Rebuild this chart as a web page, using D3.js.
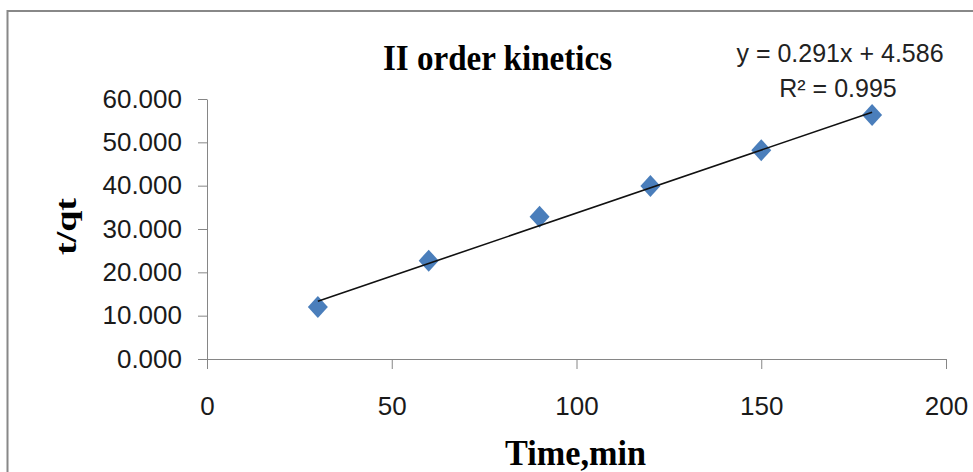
<!DOCTYPE html>
<html>
<head>
<meta charset="utf-8">
<script src="https://cdn.jsdelivr.net/npm/d3@7"></script>
<style>
  body { margin: 0; background: #fff; }
  svg { display: block; }
  .tick text { font-family: "Liberation Sans", Arial, sans-serif; font-size: 26px; fill: #1a1a1a; }
  .axis path, .axis line { stroke: #868686; }
</style>
</head>
<body>
<svg id="chart" width="973" height="472"></svg>
<script>
// data
const timeMin = [30, 60, 90, 120, 150, 180];
const tqt = [12.0, 22.7, 32.8, 39.9, 48.2, 56.3];
const xTicks = [0, 50, 100, 150, 200];
const yTicks = [0, 10, 20, 30, 40, 50, 60];
// trendline as printed on the chart
const trendSlope = 0.291;
const trendIntercept = 4.586;
const rSquared = 0.995;

const svg = d3.select('#chart');

// plot area
const plotLeft = 207, plotRight = 946, plotTop = 99, plotBottom = 359;

const xScale = d3.scaleLinear().domain([0, 200]).range([plotLeft, plotRight]);
const yScale = d3.scaleLinear().domain([0, 60]).range([plotBottom, plotTop]);

// outer chart border
svg.append('rect')
    .attr('x', 7.5)
    .attr('y', 11)
    .attr('width', 1000)
    .attr('height', 500)
    .attr('fill', 'none')
    .attr('stroke', '#888')
    .attr('stroke-width', 2);

svg.append('g')
    .attr('class', 'axis')
    .attr('transform', `translate(${plotLeft}, 0)`)
    .call(d3.axisLeft(yScale)
        .tickValues(yTicks)
        .tickSize(9)
        .tickSizeOuter(0)
        .tickPadding(16)
        .tickFormat(d3.format('.3f')));

svg.append('g')
    .attr('class', 'axis')
    .attr('transform', `translate(0, ${plotBottom})`)
    .call(d3.axisBottom(xScale)
        .tickValues(xTicks)
        .tickSize(10)
        .tickSizeOuter(0)
        .tickPadding(28));

// diamonds
const points = timeMin.map((t, i) => ({ x: t, y: tqt[i] }));
const diamond = 'M0,-11L10,0L0,11L-10,0Z';

svg.append('g')
    .selectAll('path')
    .data(points)
    .enter()
    .append('path')
    .attr('d', diamond)
    .attr('transform', (d) => `translate(${xScale(d.x)}, ${yScale(d.y)})`)
    .attr('fill', '#4a7ebb');

// linear trendline over the data range
const xExtent = d3.extent(timeMin);
svg.append('line')
    .attr('x1', xScale(xExtent[0]))
    .attr('y1', yScale(trendSlope * xExtent[0] + trendIntercept))
    .attr('x2', xScale(xExtent[1]))
    .attr('y2', yScale(trendSlope * xExtent[1] + trendIntercept))
    .attr('stroke', '#111')
    .attr('stroke-width', 1.6);

// titles
svg.append('text')
    .attr('x', 383)
    .attr('y', 70)
    .attr('textLength', 229)
    .attr('lengthAdjust', 'spacingAndGlyphs')
    .style('font-family', '"Liberation Serif", "Times New Roman", serif')
    .style('font-weight', 'bold')
    .style('font-size', '36px')
    .text('II order kinetics');

svg.append('text')
    .attr('x', 505)
    .attr('y', 465)
    .attr('textLength', 141)
    .attr('lengthAdjust', 'spacingAndGlyphs')
    .style('font-family', '"Liberation Serif", "Times New Roman", serif')
    .style('font-weight', 'bold')
    .style('font-size', '36px')
    .text('Time,min');

svg.append('text')
    .attr('transform', 'translate(76, 255) rotate(-90)')
    .attr('textLength', 57)
    .attr('lengthAdjust', 'spacingAndGlyphs')
    .style('font-family', '"Liberation Serif", "Times New Roman", serif')
    .style('font-weight', 'bold')
    .style('font-size', '30px')
    .text('t/qt');

// trendline label
const eq = svg.append('g')
    .style('font-family', '"Liberation Sans", Arial, sans-serif')
    .style('font-size', '25px')
    .style('fill', '#222')
    .attr('text-anchor', 'middle');

eq.append('text')
    .attr('x', 840)
    .attr('y', 62)
    .text(`y = ${trendSlope}x + ${trendIntercept}`);

eq.append('text')
    .attr('x', 838)
    .attr('y', 97)
    .text(`R² = ${rSquared}`);
</script>
</body>
</html>
